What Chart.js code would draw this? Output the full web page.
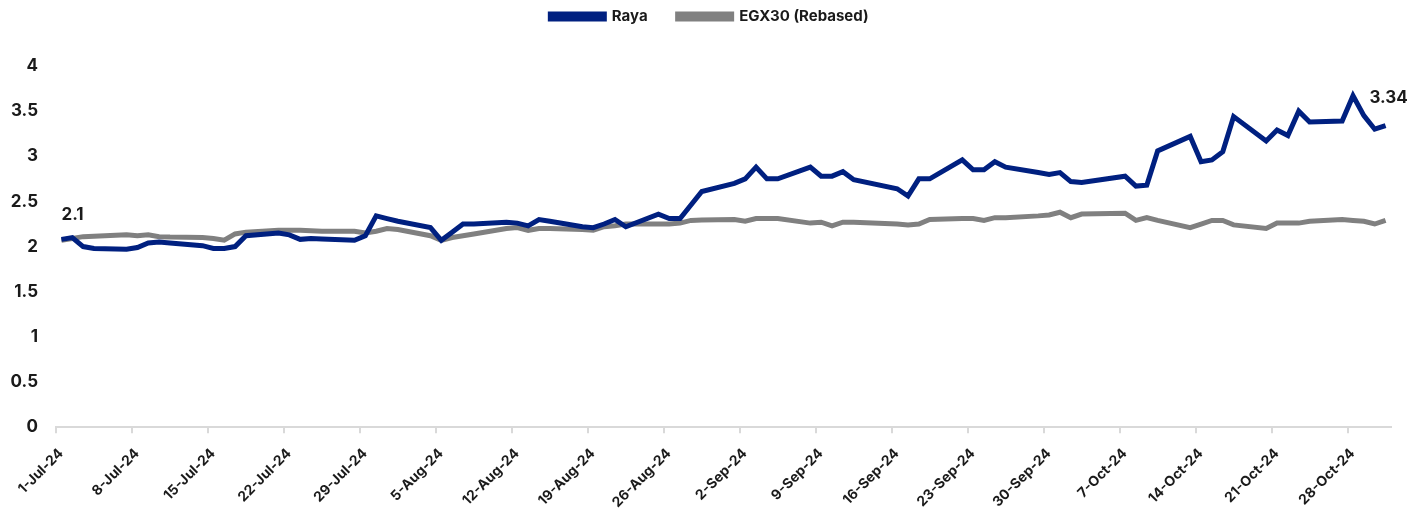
<!DOCTYPE html>
<html>
<head>
<meta charset="utf-8">
<script src="https://cdn.jsdelivr.net/npm/chart.js@4/dist/chart.umd.min.js"></script>
<style>
  body { margin: 0; background: #fff; }
  #wrap { width: 1419px; height: 514px; }
</style>
</head>
<body>
<div id="wrap"><canvas id="chart"></canvas></div>
<script>
// Trading days (EGX, Sun-Thu)
const dates = [
  '2024-07-01','2024-07-02','2024-07-03','2024-07-04','2024-07-07','2024-07-08','2024-07-09','2024-07-10','2024-07-11',
  '2024-07-14','2024-07-15','2024-07-16','2024-07-17','2024-07-18','2024-07-21','2024-07-22','2024-07-23','2024-07-24','2024-07-25',
  '2024-07-28','2024-07-29','2024-07-30','2024-07-31','2024-08-01','2024-08-04','2024-08-05','2024-08-06','2024-08-07','2024-08-08',
  '2024-08-11','2024-08-12','2024-08-13','2024-08-14','2024-08-15','2024-08-18','2024-08-19','2024-08-20','2024-08-21','2024-08-22',
  '2024-08-25','2024-08-26','2024-08-27','2024-08-28','2024-08-29','2024-09-01','2024-09-02','2024-09-03','2024-09-04','2024-09-05',
  '2024-09-08','2024-09-09','2024-09-10','2024-09-11','2024-09-12','2024-09-16','2024-09-17','2024-09-18','2024-09-19',
  '2024-09-22','2024-09-23','2024-09-24','2024-09-25','2024-09-26','2024-09-29','2024-09-30','2024-10-01','2024-10-02','2024-10-03',
  '2024-10-07','2024-10-08','2024-10-09','2024-10-10','2024-10-13','2024-10-14','2024-10-15','2024-10-16','2024-10-17',
  '2024-10-20','2024-10-21','2024-10-22','2024-10-23','2024-10-24','2024-10-27','2024-10-28','2024-10-29','2024-10-30','2024-10-31'
];

const raya = [
  2.08, 2.10, 2.00, 1.98, 1.97, 1.99, 2.04, 2.05, 2.04,
  2.01, 1.98, 1.98, 2.00, 2.12, 2.15, 2.13, 2.08, 2.09, 2.085,
  2.07, 2.12, 2.34, 2.31, 2.28, 2.21, 2.07, 2.16, 2.25, 2.25,
  2.27, 2.26, 2.23, 2.30, 2.28, 2.22, 2.21, 2.25, 2.30, 2.22,
  2.36, 2.31, 2.31, 2.46, 2.61, 2.70, 2.75, 2.88, 2.75, 2.75,
  2.88, 2.78, 2.78, 2.83, 2.74, 2.64, 2.56, 2.75, 2.75,
  2.96, 2.85, 2.85, 2.94, 2.88, 2.82, 2.80, 2.82, 2.72, 2.71,
  2.78, 2.67, 2.68, 3.06, 3.22, 2.94, 2.96, 3.05, 3.44,
  3.17, 3.29, 3.23, 3.50, 3.38, 3.39, 3.67, 3.45, 3.30, 3.34
];

const egx30 = [
  2.07, 2.09, 2.11, 2.115, 2.13, 2.12, 2.13, 2.11, 2.105,
  2.10, 2.09, 2.07, 2.14, 2.16, 2.18, 2.18, 2.18, 2.175, 2.17,
  2.17, 2.15, 2.17, 2.20, 2.19, 2.12, 2.07, 2.10, 2.12, 2.14,
  2.20, 2.21, 2.18, 2.20, 2.20, 2.19, 2.18, 2.22, 2.23, 2.25,
  2.25, 2.25, 2.26, 2.29, 2.295, 2.30, 2.28, 2.31, 2.31, 2.31,
  2.26, 2.27, 2.23, 2.27, 2.27, 2.25, 2.24, 2.25, 2.30,
  2.31, 2.31, 2.29, 2.32, 2.32, 2.34, 2.35, 2.38, 2.32, 2.36,
  2.37, 2.29, 2.32, 2.29, 2.21, 2.25, 2.29, 2.29, 2.24,
  2.20, 2.26, 2.26, 2.26, 2.28, 2.30, 2.29, 2.28, 2.25, 2.29
];

const tickLabels = [
  '1-Jul-24','8-Jul-24','15-Jul-24','22-Jul-24','29-Jul-24','5-Aug-24','12-Aug-24','19-Aug-24','26-Aug-24',
  '2-Sep-24','9-Sep-24','16-Sep-24','23-Sep-24','30-Sep-24','7-Oct-24','14-Oct-24','21-Oct-24','28-Oct-24'
];
const yTicks = [0, 0.5, 1, 1.5, 2, 2.5, 3, 3.5, 4];

// Day offset from 1-Jul-24 (points sit mid-day, ticks on day boundaries)
const startUTC = Date.UTC(2024, 6, 1);
function dayIndex(s) {
  const p = s.split('-');
  return (Date.UTC(+p[0], +p[1] - 1, +p[2]) - startUTC) / 864e5;
}
const toPoints = vals => vals.map((v, i) => ({ x: dayIndex(dates[i]), y: v }));

const FONT = 'Inter, "Noto Sans", Arial, sans-serif';

// End-point value labels for Raya
const endLabels = {
  id: 'endLabels',
  afterDatasetsDraw(chart) {
    const pts = chart.getDatasetMeta(0).data;
    const ctx = chart.ctx;
    ctx.save();
    ctx.fillStyle = '#1a1a1a';
    ctx.font = 'bold 17px ' + FONT;
    ctx.textBaseline = 'bottom';
    const first = pts[0], last = pts[pts.length - 1];
    ctx.textAlign = 'left';
    ctx.fillText(raya[0].toFixed(1), first.x, first.y - 16);
    ctx.textAlign = 'center';
    ctx.fillText(raya[raya.length - 1].toFixed(2), last.x + 3, last.y - 19);
    ctx.restore();
  }
};

// push plot area below legend, and centre legend on the full canvas
const legendGap = {
  id: 'legendGap',
  beforeInit(chart) {
    const fit = chart.legend.fit;
    chart.legend.fit = function () {
      fit.bind(chart.legend)();
      this.height += 32;
    };
  },
  afterLayout(chart) {
    chart.legend.left += 14;
    chart.legend.right += 14;
  }
};

new Chart(document.getElementById('chart'), {
  type: 'line',
  data: {
    datasets: [
      {
        label: 'Raya',
        data: toPoints(raya),
        borderColor: '#002080',
        backgroundColor: '#002080',
        borderWidth: 5,
        pointRadius: 0,
        tension: 0
      },
      {
        label: 'EGX30 (Rebased)',
        data: toPoints(egx30),
        borderColor: '#808080',
        backgroundColor: '#808080',
        borderWidth: 5,
        pointRadius: 0,
        tension: 0
      }
    ]
  },
  options: {
    responsive: true,
    maintainAspectRatio: false,
    animation: false,
    layout: { padding: { top: -21, left: 0, right: 28, bottom: -9 } },
    plugins: {
      legend: {
        display: true,
        position: 'top',
        labels: {
          color: '#1a1a1a',
          font: { family: FONT, size: 15, weight: 'bold' },
          boxWidth: 54,
          boxHeight: 5,
          padding: 30
        }
      },
      tooltip: { enabled: false }
    },
    scales: {
      x: {
        type: 'linear',
        min: -0.5,
        max: 122.5,
        afterBuildTicks: axis => {
          axis.ticks = tickLabels.map((_, i) => ({ value: i * 7 - 0.5 }));
        },
        afterFit: axis => {
          axis.paddingLeft = 30;
        },
        ticks: {
          autoSkip: false,
          maxRotation: 45,
          minRotation: 45,
          color: '#1a1a1a',
          font: { family: FONT, size: 14, weight: 'bold' },
          padding: 12,
          labelOffset: 5,
          callback: (v, i) => tickLabels[i]
        },
        grid: {
          drawOnChartArea: false,
          drawTicks: true,
          tickLength: 6,
          color: '#d9d9d9',
          lineWidth: 2
        },
        border: { display: true, color: '#d9d9d9', width: 2 }
      },
      y: {
        min: 0,
        max: 4,
        afterBuildTicks: axis => {
          axis.ticks = yTicks.map(v => ({ value: v }));
        },
        afterFit: axis => {
          axis.width = 56;
        },
        ticks: {
          color: '#1a1a1a',
          font: { family: FONT, size: 17, weight: 'bold' },
          padding: 18,
          callback: v => String(v)
        },
        grid: { display: false, drawTicks: false },
        border: { display: false }
      }
    }
  },
  plugins: [endLabels, legendGap]
});
</script>
</body>
</html>
